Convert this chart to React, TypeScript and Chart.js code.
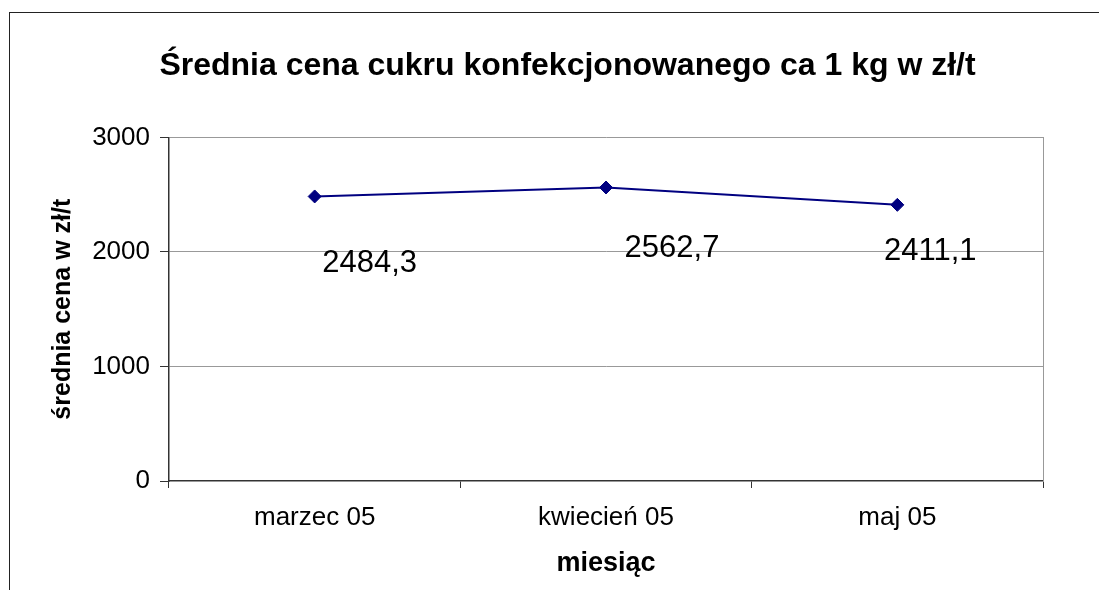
import React, { useEffect, useRef } from "react";
import { Chart, registerables } from "chart.js";

Chart.register(...registerables);

const chartTitle = "Średnia cena cukru konfekcjonowanego ca 1 kg w zł/t";
const xAxisTitle = "miesiąc";
const yAxisTitle = "średnia cena w zł/t";
const categories = ["marzec 05", "kwiecień 05", "maj 05"];
const prices = [2484.3, 2562.7, 2411.1];
const yMin = 0;
const yMax = 3000;
const yStep = 1000;

const FONT = "'Liberation Sans', Arial, Helvetica, sans-serif";

// label placement relative to each point (style only)
const labelOffsets = [
  { dx: 55, dy: 76 },
  { dx: 66, dy: 70 },
  { dx: 33, dy: 55 },
];

const formatPl = (v: number) => v.toFixed(1).replace(".", ",");

const frameAndLabels = {
  id: "frameAndLabels",
  beforeDraw(chart: any) {
    const ctx = chart.ctx;
    ctx.save();
    ctx.strokeStyle = "#222";
    ctx.lineWidth = 1;
    ctx.strokeRect(9.5, 12.5, 1117, 700);
    ctx.restore();
  },
  afterDatasetsDraw(chart: any) {
    const ctx = chart.ctx;
    const meta = chart.getDatasetMeta(0);
    const data = chart.data.datasets[0].data as number[];
    ctx.save();
    ctx.font = `31px ${FONT}`;
    ctx.fillStyle = "#000";
    ctx.textAlign = "center";
    ctx.textBaseline = "alphabetic";
    meta.data.forEach((pt: any, i: number) => {
      const off = labelOffsets[i] || { dx: 0, dy: 0 };
      ctx.fillText(formatPl(data[i]), pt.x + off.dx, pt.y + off.dy);
    });
    ctx.restore();
  },
};

export default function App() {
  const ref = useRef<HTMLCanvasElement | null>(null);

  useEffect(() => {
    if (!ref.current) return;
    Chart.defaults.font.family = FONT;
    const chart = new Chart(ref.current, {
      type: "line",
      data: {
        labels: categories,
        datasets: [
          {
            data: prices,
            borderColor: "#000080",
            backgroundColor: "#000080",
            borderWidth: 2,
            pointStyle: "rectRot",
            pointRadius: 6.5,
            pointBorderWidth: 1,
            pointBackgroundColor: "#000080",
            pointBorderColor: "#000080",
            tension: 0,
            yAxisID: "y",
          },
        ],
      },
      options: {
        responsive: false,
        animation: false,
        layout: { padding: { left: 36, right: 0, top: 0, bottom: 0 } },
        plugins: {
          legend: { display: false },
          tooltip: { enabled: false },
          title: {
            display: true,
            text: chartTitle,
            color: "#000",
            font: { size: 32, weight: "bold", family: FONT },
            padding: { top: 47, bottom: 52 },
          },
        },
        scales: {
          x: {
            type: "category",
            offset: true,
            grid: {
              display: true,
              drawOnChartArea: false,
              drawTicks: true,
              tickLength: 7,
              tickColor: "#333",
              offset: true,
            },
            border: { display: true, color: "#333", width: 1.5 },
            ticks: {
              color: "#000",
              font: { size: 26, family: FONT },
              padding: 14,
              maxRotation: 0,
            },
            title: {
              display: true,
              text: xAxisTitle,
              color: "#000",
              font: { size: 27, weight: "bold", family: FONT },
              padding: { top: 0, bottom: 10 },
            },
            afterFit(scale: any) {
              scale.height = 109;
            },
          },
          y: {
            position: "left",
            min: yMin,
            max: yMax,
            ticks: {
              stepSize: yStep,
              color: "#000",
              font: { size: 26, family: FONT },
              padding: 10,
              callback: (v: any) => String(v),
            },
            grid: {
              color: (c: any) => (c.tick && c.tick.value === 0 ? "rgba(0,0,0,0)" : "#999"),
              lineWidth: 1,
              tickLength: 9,
              tickColor: "#333",
            },
            border: { display: true, color: "#333", width: 1.5 },
            title: {
              display: true,
              text: yAxisTitle,
              color: "#000",
              font: { size: 25, weight: "bold", family: FONT },
              padding: { top: 12, bottom: 0 },
            },
            afterFit(scale: any) {
              scale.width = 133;
            },
          },
          y2: {
            position: "right",
            display: true,
            min: 0,
            max: 1,
            grid: { display: false, drawTicks: false },
            ticks: { display: false },
            border: { display: true, color: "#999", width: 1 },
            afterFit(scale: any) {
              scale.width = 56;
            },
          },
        },
      },
      plugins: [frameAndLabels],
    } as any);
    return () => chart.destroy();
  }, []);

  return (
    <div style={{ position: "absolute", left: 0, top: 0, width: 1099, height: 590, background: "#fff" }}>
      <canvas ref={ref} width={1099} height={590} style={{ display: "block" }} />
    </div>
  );
}
